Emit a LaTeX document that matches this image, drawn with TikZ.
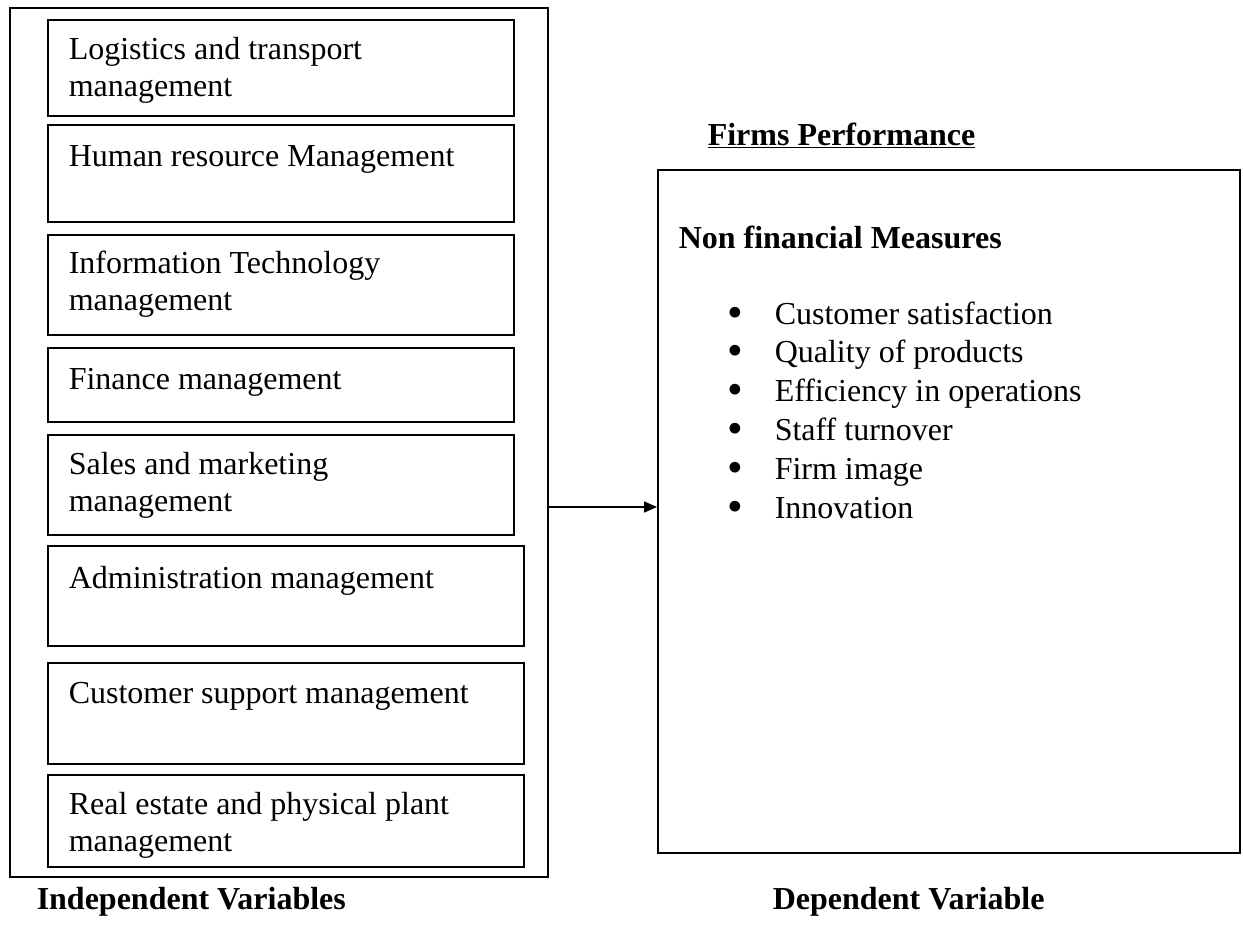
\documentclass[tikz,border=0pt]{standalone}
\usepackage{fontspec}
\setmainfont{Liberation Serif}
\usetikzlibrary{arrows.meta}

\newcommand{\itemdot}{\makebox[47pt][l]{\smash{\raisebox{-3pt}{\scalebox{1.4}{\textbullet}}}}}

\begin{document}
\begin{tikzpicture}[x=1pt, y=-1pt, line width=1.5pt,
        font=\fontsize{32}{37}\selectfont,
        box/.style={draw, rectangle, anchor=north west, inner sep=0pt, minimum width=466pt},
        wide/.style={box, minimum width=476pt},
        txt/.style={anchor=base west, align=left, inner sep=0pt},
        head/.style={txt, font=\fontsize{32}{37}\selectfont\bfseries}
    ]
    \useasboundingbox (0,0) rectangle (1243,927);

    % independent variables (two-line texts sit on their last baseline)
    \node[box, minimum width=538pt, minimum height=869pt] (outer) at (9,7) {};

    \node[box, minimum height=96pt] (b1) at (47,19) {};
    \node[box, minimum height=97pt] (b2) at (47,124) {};
    \node[box, minimum height=100pt] (b3) at (47,234) {};
    \node[box, minimum height=74pt] (b4) at (47,347) {};
    \node[box, minimum height=100pt] (b5) at (47,434) {};
    \node[wide, minimum height=100pt] (b6) at (47,545) {};
    \node[wide, minimum height=101pt] (b7) at (47,662) {};
    \node[wide, minimum height=92pt] (b8) at (47,774) {};

    \node[txt] (t1) at (68,96) {Logistics and transport\\management};
    \node[txt] (t2) at (68,166) {Human resource Management};
    \node[txt] (t3) at (68,310) {Information Technology\\management};
    \node[txt] (t4) at (68,389) {Finance management};
    \node[txt] (t5) at (68,511) {Sales and marketing\\management};
    \node[txt] (t6) at (68,588) {Administration management};
    \node[txt] (t7) at (68,703) {Customer support management};
    \node[txt] (t8) at (68,851) {Real estate and physical plant\\management};

    % dependent variable
    \node[head] (fph) at (707,145) {\underline{Firms Performance}};
    \node[box, minimum width=582pt, minimum height=683pt] (fp) at (657,169) {};
    \node[head] (nfm) at (678,248) {Non financial Measures};
    \node[txt, font=\fontsize{32}{38.8}\selectfont] (items) at (727,518) {%
        \itemdot Customer satisfaction\\
        \itemdot Quality of products\\
        \itemdot Efficiency in operations\\
        \itemdot Staff turnover\\
        \itemdot Firm image\\
        \itemdot Innovation};

    \draw[-{Triangle[length=13pt, width=11pt]}] (outer.east |- 0,507) -- (fp.west |- 0,507);

    \node[head] (iv) at (36,909) {Independent Variables};
    \node[head] (dv) at (772,909) {Dependent Variable};
\end{tikzpicture}
\end{document}
